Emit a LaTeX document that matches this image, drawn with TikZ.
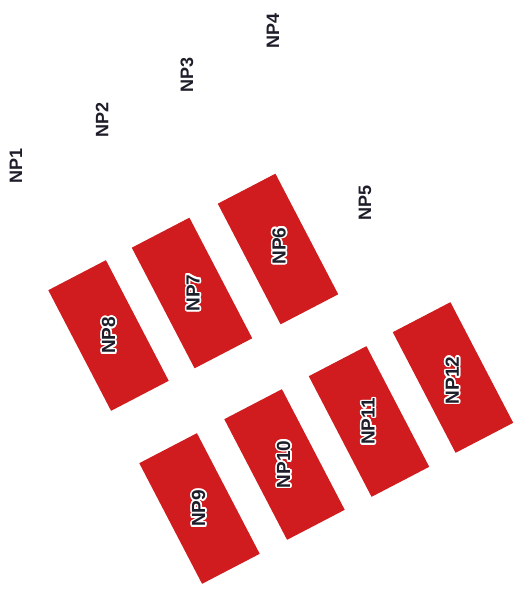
\documentclass[tikz,border=0pt]{standalone}
\usepackage{fontspec}
\setmainfont{Liberation Sans}
\usepackage{contour}
\contourlength{1.6pt}
\definecolor{padred}{RGB}{208,28,30}
\definecolor{labelink}{RGB}{30,30,42}
\begin{document}
\begin{tikzpicture}[x=1pt,y=1pt,
  pad/.style={fill=padred, draw=none, rotate=-62.5, minimum width=136pt, minimum height=65pt, inner sep=0pt},
  padlabel/.style={rotate=90, font=\fontsize{19}{19}\selectfont\bfseries, text=labelink, inner sep=0pt},
  outlabel/.style={rotate=90, font=\fontsize{18}{18}\selectfont\bfseries, text=labelink, inner sep=0pt}]
\useasboundingbox (0,0) rectangle (517,595);
\fill[white] (0,0) rectangle (517,595);
% outer labels
\node[outlabel] (np1) at (16,429) {NP1};
\node[outlabel] (np2) at (102,475) {NP2};
\node[outlabel] (np3) at (187,520) {NP3};
\node[outlabel] (np4) at (273,564) {NP4};
\node[outlabel] (np5) at (365,392) {NP5};
% pads
\node[pad] (r6) at (278,346) {};
\node[pad] (r7) at (192,302) {};
\node[pad] (r8) at (108.5,259.5) {};
\node[pad] (r9) at (199.5,86.5) {};
\node[pad] (r10) at (284.5,130.5) {};
\node[pad] (r11) at (369,173.5) {};
\node[pad] (r12) at (453,217.5) {};
% pad labels
\node[padlabel] (t6) at ([xshift=2pt,yshift=3pt]r6.center) {\contour{white}{NP6}};
\node[padlabel] (t7) at ([xshift=2pt]r7.center) {\contour{white}{NP7}};
\node[padlabel] (t8) at ([xshift=1pt]r8.center) {\contour{white}{NP8}};
\node[padlabel] (t9) at (r9.center) {\contour{white}{NP9}};
\node[padlabel] (t10) at (r10.center) {\contour{white}{NP10}};
\node[padlabel] (t11) at (r11.center) {\contour{white}{NP11}};
\node[padlabel] (t12) at ([yshift=-3pt]r12.center) {\contour{white}{NP12}};
\end{tikzpicture}
\end{document}
